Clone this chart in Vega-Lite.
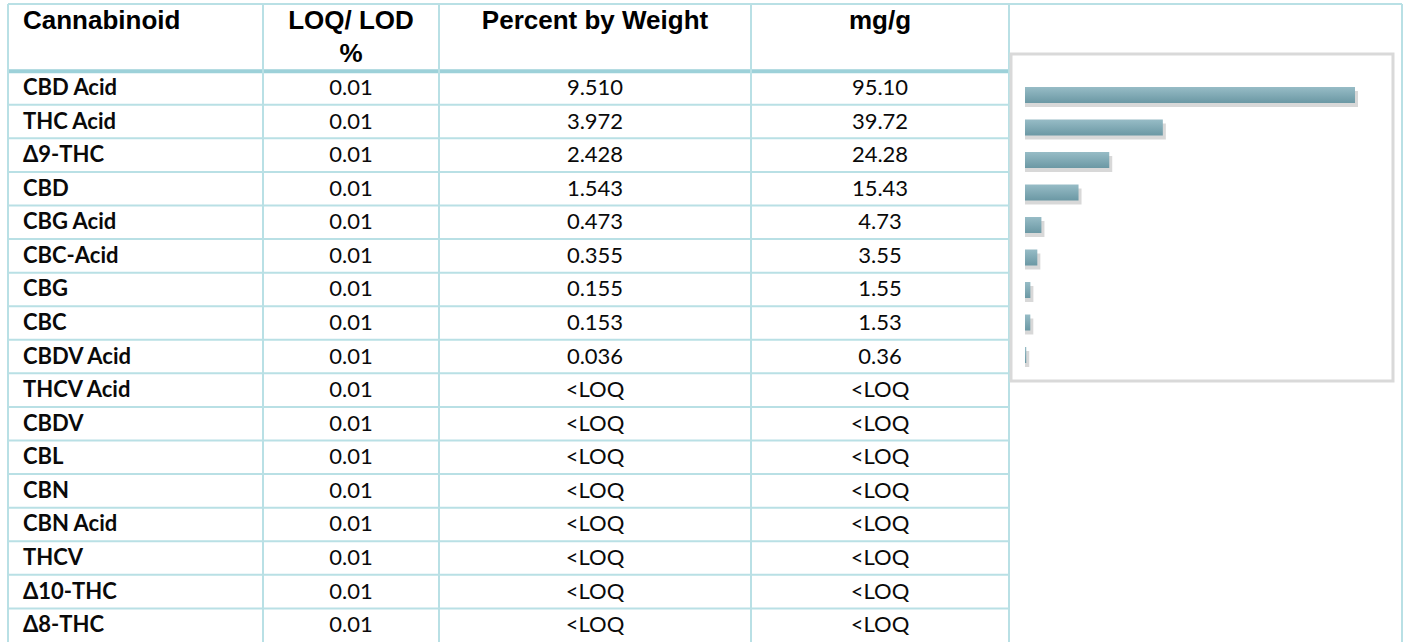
{
  "$schema": "https://vega.github.io/schema/vega-lite/v6.json",
  "background": "white",
  "padding": {"left": 6, "top": 3, "right": 4, "bottom": 0},
  "spacing": 0,
  "bounds": "flush",
  "config": {"view": {"stroke": null}, "axis": {"disable": true}},
  "datasets": {
    "rows": [
      {"name": "CBD Acid", "loq": "0.01", "pct": "9.510", "mg": "95.10", "mgv": 95.10},
      {"name": "THC Acid", "loq": "0.01", "pct": "3.972", "mg": "39.72", "mgv": 39.72},
      {"name": "Δ9-THC", "loq": "0.01", "pct": "2.428", "mg": "24.28", "mgv": 24.28},
      {"name": "CBD", "loq": "0.01", "pct": "1.543", "mg": "15.43", "mgv": 15.43},
      {"name": "CBG Acid", "loq": "0.01", "pct": "0.473", "mg": "4.73", "mgv": 4.73},
      {"name": "CBC-Acid", "loq": "0.01", "pct": "0.355", "mg": "3.55", "mgv": 3.55},
      {"name": "CBG", "loq": "0.01", "pct": "0.155", "mg": "1.55", "mgv": 1.55},
      {"name": "CBC", "loq": "0.01", "pct": "0.153", "mg": "1.53", "mgv": 1.53},
      {"name": "CBDV Acid", "loq": "0.01", "pct": "0.036", "mg": "0.36", "mgv": 0.36},
      {"name": "THCV Acid", "loq": "0.01", "pct": "<LOQ", "mg": "<LOQ", "mgv": null},
      {"name": "CBDV", "loq": "0.01", "pct": "<LOQ", "mg": "<LOQ", "mgv": null},
      {"name": "CBL", "loq": "0.01", "pct": "<LOQ", "mg": "<LOQ", "mgv": null},
      {"name": "CBN", "loq": "0.01", "pct": "<LOQ", "mg": "<LOQ", "mgv": null},
      {"name": "CBN Acid", "loq": "0.01", "pct": "<LOQ", "mg": "<LOQ", "mgv": null},
      {"name": "THCV", "loq": "0.01", "pct": "<LOQ", "mg": "<LOQ", "mgv": null},
      {"name": "Δ10-THC", "loq": "0.01", "pct": "<LOQ", "mg": "<LOQ", "mgv": null},
      {"name": "Δ8-THC", "loq": "0.01", "pct": "<LOQ", "mg": "<LOQ", "mgv": null}
    ],
    "header": [
      {"col": "c1", "r": "h1", "t": "Cannabinoid"},
      {"col": "c2", "r": "h1", "t": "LOQ/ LOD"},
      {"col": "c2", "r": "h2", "t": "%"},
      {"col": "c3", "r": "h1", "t": "Percent by Weight"},
      {"col": "c4", "r": "h1", "t": "mg/g"}
    ]
  },
  "hconcat": [
    {
      "width": 255, "height": 638,
      "layer": [
        {"data": {"name": "rows"}, "mark": {"type": "rule"},
         "encoding": {
           "y": {"field": "name", "type": "nominal", "bandPosition": 0, "axis": null,
                 "scale": {"domain": ["h1","h2","CBD Acid","THC Acid","Δ9-THC","CBD","CBG Acid","CBC-Acid","CBG","CBC","CBDV Acid","THCV Acid","CBDV","CBL","CBN","CBN Acid","THCV","Δ10-THC","Δ8-THC"]}},
           "strokeWidth": {"condition": {"test": "datum.name === 'CBD Acid'", "value": 4}, "value": 2},
           "color": {"condition": {"test": "datum.name === 'CBD Acid'", "value": "#9dd1d9"}, "value": "#b9e0e5"}}},
        {"data": {"values": [{"r": "h1"}]}, "mark": {"type": "rule", "color": "#b9e0e5", "strokeWidth": 2},
         "encoding": {"y": {"field": "r", "type": "nominal", "bandPosition": 0, "axis": null}}},
        {"data": {"values": [{"e": 0}]}, "mark": {"type": "rule", "color": "#b9e0e5", "strokeWidth": 2},
         "encoding": {"x": {"field": "e", "type": "quantitative", "axis": null, "scale": {"domain": [0, 1], "nice": false}}}},
        {"data": {"name": "rows"}, "mark": {"type": "text", "font": "Lato", "fontWeight": "bold", "fontSize": 22, "color": "#0a0a0a", "align": "left", "dx": 15, "baseline": "middle"},
         "encoding": {"y": {"field": "name", "type": "nominal", "axis": null}, "x": {"datum": 0, "type": "quantitative", "axis": null}, "text": {"field": "name"}}},
        {"data": {"name": "header"}, "transform": [{"filter": "datum.col === 'c1'"}],
         "mark": {"type": "text", "font": "Liberation Sans", "fontWeight": "bold", "fontSize": 26, "color": "#000000", "align": "left", "dx": 15, "baseline": "middle"},
         "encoding": {"y": {"field": "r", "type": "nominal", "axis": null}, "x": {"datum": 0, "type": "quantitative", "axis": null}, "text": {"field": "t"}}}
      ]
    },
    {
      "width": 176, "height": 638,
      "layer": [
        {"data": {"name": "rows"}, "mark": {"type": "rule"},
         "encoding": {
           "y": {"field": "name", "type": "nominal", "bandPosition": 0, "axis": null,
                 "scale": {"domain": ["h1","h2","CBD Acid","THC Acid","Δ9-THC","CBD","CBG Acid","CBC-Acid","CBG","CBC","CBDV Acid","THCV Acid","CBDV","CBL","CBN","CBN Acid","THCV","Δ10-THC","Δ8-THC"]}},
           "strokeWidth": {"condition": {"test": "datum.name === 'CBD Acid'", "value": 4}, "value": 2},
           "color": {"condition": {"test": "datum.name === 'CBD Acid'", "value": "#9dd1d9"}, "value": "#b9e0e5"}}},
        {"data": {"values": [{"r": "h1"}]}, "mark": {"type": "rule", "color": "#b9e0e5", "strokeWidth": 2},
         "encoding": {"y": {"field": "r", "type": "nominal", "bandPosition": 0, "axis": null}}},
        {"data": {"values": [{"e": 0}]}, "mark": {"type": "rule", "color": "#b9e0e5", "strokeWidth": 2},
         "encoding": {"x": {"field": "e", "type": "quantitative", "axis": null, "scale": {"domain": [0, 1], "nice": false}}}},
        {"data": {"name": "rows"}, "mark": {"type": "text", "font": "Lato", "fontSize": 22, "color": "#0a0a0a", "baseline": "middle"},
         "encoding": {"y": {"field": "name", "type": "nominal", "axis": null}, "text": {"field": "loq"}}},
        {"data": {"name": "header"}, "transform": [{"filter": "datum.col === 'c2'"}],
         "mark": {"type": "text", "font": "Liberation Sans", "fontWeight": "bold", "fontSize": 26, "color": "#000000", "baseline": "middle"},
         "encoding": {"y": {"field": "r", "type": "nominal", "axis": null}, "text": {"field": "t"}}}
      ]
    },
    {
      "width": 312, "height": 638,
      "layer": [
        {"data": {"name": "rows"}, "mark": {"type": "rule"},
         "encoding": {
           "y": {"field": "name", "type": "nominal", "bandPosition": 0, "axis": null,
                 "scale": {"domain": ["h1","h2","CBD Acid","THC Acid","Δ9-THC","CBD","CBG Acid","CBC-Acid","CBG","CBC","CBDV Acid","THCV Acid","CBDV","CBL","CBN","CBN Acid","THCV","Δ10-THC","Δ8-THC"]}},
           "strokeWidth": {"condition": {"test": "datum.name === 'CBD Acid'", "value": 4}, "value": 2},
           "color": {"condition": {"test": "datum.name === 'CBD Acid'", "value": "#9dd1d9"}, "value": "#b9e0e5"}}},
        {"data": {"values": [{"r": "h1"}]}, "mark": {"type": "rule", "color": "#b9e0e5", "strokeWidth": 2},
         "encoding": {"y": {"field": "r", "type": "nominal", "bandPosition": 0, "axis": null}}},
        {"data": {"values": [{"e": 0}]}, "mark": {"type": "rule", "color": "#b9e0e5", "strokeWidth": 2},
         "encoding": {"x": {"field": "e", "type": "quantitative", "axis": null, "scale": {"domain": [0, 1], "nice": false}}}},
        {"data": {"name": "rows"}, "mark": {"type": "text", "font": "Lato", "fontSize": 22, "color": "#0a0a0a", "baseline": "middle"},
         "encoding": {"y": {"field": "name", "type": "nominal", "axis": null}, "text": {"field": "pct"}}},
        {"data": {"name": "header"}, "transform": [{"filter": "datum.col === 'c3'"}],
         "mark": {"type": "text", "font": "Liberation Sans", "fontWeight": "bold", "fontSize": 26, "color": "#000000", "baseline": "middle"},
         "encoding": {"y": {"field": "r", "type": "nominal", "axis": null}, "text": {"field": "t"}}}
      ]
    },
    {
      "width": 258, "height": 638,
      "layer": [
        {"data": {"name": "rows"}, "mark": {"type": "rule"},
         "encoding": {
           "y": {"field": "name", "type": "nominal", "bandPosition": 0, "axis": null,
                 "scale": {"domain": ["h1","h2","CBD Acid","THC Acid","Δ9-THC","CBD","CBG Acid","CBC-Acid","CBG","CBC","CBDV Acid","THCV Acid","CBDV","CBL","CBN","CBN Acid","THCV","Δ10-THC","Δ8-THC"]}},
           "strokeWidth": {"condition": {"test": "datum.name === 'CBD Acid'", "value": 4}, "value": 2},
           "color": {"condition": {"test": "datum.name === 'CBD Acid'", "value": "#9dd1d9"}, "value": "#b9e0e5"}}},
        {"data": {"values": [{"r": "h1"}]}, "mark": {"type": "rule", "color": "#b9e0e5", "strokeWidth": 2},
         "encoding": {"y": {"field": "r", "type": "nominal", "bandPosition": 0, "axis": null}}},
        {"data": {"values": [{"e": 0}]}, "mark": {"type": "rule", "color": "#b9e0e5", "strokeWidth": 2},
         "encoding": {"x": {"field": "e", "type": "quantitative", "axis": null, "scale": {"domain": [0, 1], "nice": false}}}},
        {"data": {"name": "rows"}, "mark": {"type": "text", "font": "Lato", "fontSize": 22, "color": "#0a0a0a", "baseline": "middle"},
         "encoding": {"y": {"field": "name", "type": "nominal", "axis": null}, "text": {"field": "mg"}}},
        {"data": {"name": "header"}, "transform": [{"filter": "datum.col === 'c4'"}],
         "mark": {"type": "text", "font": "Liberation Sans", "fontWeight": "bold", "fontSize": 26, "color": "#000000", "baseline": "middle"},
         "encoding": {"y": {"field": "r", "type": "nominal", "axis": null}, "text": {"field": "t"}}}
      ]
    },
    {
      "width": 393, "height": 638,
      "layer": [
        {"layer": [
          {"data": {"values": [{"r": "h1"}]}, "mark": {"type": "rule", "color": "#b9e0e5", "strokeWidth": 2},
           "encoding": {"y": {"field": "r", "type": "nominal", "bandPosition": 0, "axis": null,
             "scale": {"domain": ["h1","h2","CBD Acid","THC Acid","Δ9-THC","CBD","CBG Acid","CBC-Acid","CBG","CBC","CBDV Acid","THCV Acid","CBDV","CBL","CBN","CBN Acid","THCV","Δ10-THC","Δ8-THC"]}}}},
          {"data": {"values": [{"e": 0}, {"e": 1}]}, "mark": {"type": "rule", "color": "#b9e0e5", "strokeWidth": 2},
           "encoding": {"x": {"field": "e", "type": "quantitative", "axis": null, "scale": {"domain": [0, 1], "nice": false}}}}
        ]},
        {"layer": [
          {"data": {"values": [{"a": "CBD Acid", "b": "CBDV Acid", "lo": -4.035, "hi": 106.05}]},
           "mark": {"type": "rect", "fillOpacity": 0, "stroke": "#d9d9d9", "strokeWidth": 3, "yOffset": -41, "y2Offset": 26},
           "encoding": {
             "x": {"field": "lo", "type": "quantitative", "axis": null},
             "x2": {"field": "hi"},
             "y": {"field": "a", "type": "nominal", "axis": null, "bandPosition": 0.5,
                   "scale": {"type": "band", "domain": ["CBD Acid","THC Acid","Δ9-THC","CBD","CBG Acid","CBC-Acid","CBG","CBC","CBDV Acid"],
                             "paddingInner": 0.508, "paddingOuter": 0, "range": [83, 359]}},
             "y2": {"field": "b"}}},
          {"data": {"name": "rows"}, "transform": [{"filter": "isValid(datum.mgv)"}],
           "mark": {"type": "bar", "color": "#3c3c3c", "opacity": 0.2, "xOffset": 3, "yOffset": 4},
           "encoding": {
             "y": {"field": "name", "type": "nominal", "axis": null, "sort": null},
             "x": {"field": "mgv", "type": "quantitative", "axis": null},
             "x2": {"datum": 0}}},
          {"data": {"name": "rows"}, "transform": [{"filter": "isValid(datum.mgv)"}],
           "mark": {"type": "bar", "color": {"gradient": "linear", "x1": 0, "y1": 0, "x2": 0, "y2": 1,
             "stops": [{"offset": 0, "color": "#97bcc6"}, {"offset": 1, "color": "#6b98a4"}]}},
           "encoding": {
             "y": {"field": "name", "type": "nominal", "axis": null, "sort": null},
             "x": {"field": "mgv", "type": "quantitative", "axis": null,
                   "scale": {"domain": [-4.611, 108.646], "nice": false, "zero": false}},
             "x2": {"datum": 0}}}
        ]}
      ],
      "resolve": {"scale": {"x": "independent", "y": "independent"}}
    }
  ]
}
